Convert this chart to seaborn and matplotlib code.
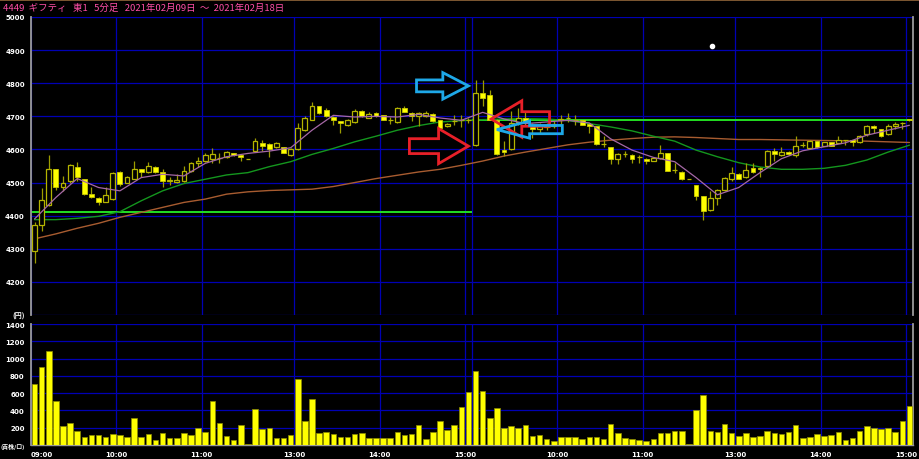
import matplotlib
matplotlib.use('Agg')
import matplotlib.pyplot as plt
from matplotlib.patches import FancyArrow, Rectangle
import seaborn as sns
import pandas as pd
import numpy as np

sns.set_style('dark', {'axes.facecolor': 'black', 'figure.facecolor': 'black'})
plt.rcParams['font.family'] = ['Noto Sans CJK JP', 'DejaVu Sans']

title = '4449  ギフティ   東1   5分足   2021年02月09日  〜  2021年02月18日'

# 5-minute bars, 2 sessions (09:00-11:30, 12:30-15:00) x 2 days
opens = [4293, 4373, 4433, 4541, 4486, 4506, 4546, 4510, 4466, 4453, 4442, 4451, 4532, 4500, 4512, 4541,
         4531, 4546, 4531, 4506, 4501, 4506, 4536, 4558, 4566, 4570, 4573, 4576, 4588, 4584, 4571,
         4596, 4620, 4616, 4608, 4606, 4582, 4600, 4658, 4690, 4730, 4720, 4697, 4685, 4673, 4683,
         4716, 4696, 4710, 4703, 4688, 4683, 4726, 4710, 4701, 4701, 4706, 4688, 4670, 4685, 4688, 4688,
         4613, 4770, 4765, 4690, 4598, 4600, 4682, 4695, 4675, 4662, 4668, 4670, 4690, 4694, 4688,
         4688, 4676, 4670, 4615, 4606, 4570, 4586, 4583, 4576, 4572, 4566, 4575, 4588, 4538, 4533, 4511,
         4492, 4458, 4418, 4453, 4478, 4510, 4526, 4516, 4543, 4545, 4550, 4596, 4583, 4592, 4582,
         4613, 4605, 4625, 4611, 4621, 4620, 4628, 4628, 4622, 4646, 4671, 4661, 4646, 4671, 4680, 4691]
highs = [4380, 4483, 4583, 4541, 4520, 4555, 4561, 4510, 4488, 4455, 4488, 4532, 4536, 4520, 4566, 4541,
         4563, 4551, 4540, 4518, 4526, 4551, 4563, 4576, 4588, 4603, 4588, 4595, 4590, 4586, 4571,
         4636, 4628, 4618, 4622, 4608, 4604, 4680, 4700, 4743, 4732, 4725, 4700, 4687, 4693, 4723,
         4718, 4712, 4712, 4705, 4698, 4728, 4730, 4712, 4713, 4716, 4710, 4690, 4680, 4703, 4703, 4695,
         4810, 4810, 4780, 4692, 4625, 4715, 4725, 4715, 4680, 4680, 4680, 4685, 4703, 4710, 4703,
         4690, 4678, 4672, 4641, 4608, 4588, 4596, 4585, 4583, 4574, 4575, 4613, 4590, 4560, 4535, 4511,
         4494, 4460, 4473, 4480, 4516, 4546, 4528, 4560, 4560, 4547, 4598, 4605, 4606, 4594, 4641,
         4623, 4630, 4627, 4623, 4623, 4641, 4630, 4630, 4644, 4673, 4673, 4663, 4678, 4683, 4682, 4693]
lows = [4258, 4353, 4430, 4478, 4473, 4500, 4506, 4462, 4453, 4432, 4440, 4448, 4490, 4498, 4510, 4518,
        4528, 4528, 4488, 4493, 4499, 4503, 4533, 4546, 4563, 4560, 4558, 4574, 4580, 4566, 4571,
        4594, 4596, 4576, 4604, 4588, 4580, 4598, 4655, 4688, 4708, 4698, 4673, 4651, 4670, 4680,
        4698, 4694, 4699, 4688, 4678, 4680, 4712, 4685, 4671, 4698, 4683, 4663, 4667, 4673, 4668, 4680,
        4610, 4730, 4688, 4584, 4580, 4598, 4675, 4675, 4635, 4650, 4660, 4665, 4678, 4683, 4673,
        4673, 4650, 4612, 4606, 4556, 4556, 4578, 4560, 4560, 4556, 4564, 4572, 4534, 4528, 4509, 4511,
        4446, 4388, 4415, 4433, 4476, 4506, 4510, 4514, 4528, 4516, 4548, 4566, 4580, 4583, 4578,
        4606, 4603, 4604, 4609, 4609, 4618, 4613, 4610, 4620, 4640, 4650, 4638, 4644, 4663, 4663, 4686]
closes = [4373, 4448, 4541, 4486, 4498, 4552, 4516, 4466, 4456, 4442, 4462, 4528, 4496, 4516, 4541, 4531,
          4551, 4531, 4506, 4507, 4508, 4536, 4560, 4566, 4584, 4586, 4575, 4592, 4582, 4576, 4571,
          4625, 4610, 4600, 4618, 4590, 4600, 4665, 4696, 4731, 4710, 4700, 4688, 4680, 4690, 4716,
          4700, 4708, 4701, 4690, 4689, 4725, 4714, 4702, 4711, 4711, 4685, 4666, 4677, 4687, 4689, 4690,
          4770, 4756, 4690, 4586, 4592, 4680, 4695, 4683, 4662, 4670, 4670, 4678, 4692, 4696, 4689,
          4675, 4670, 4615, 4616, 4570, 4586, 4587, 4570, 4577, 4566, 4573, 4588, 4536, 4539, 4511, 4511,
          4458, 4413, 4453, 4478, 4513, 4528, 4512, 4538, 4532, 4540, 4596, 4586, 4592, 4585, 4611,
          4614, 4625, 4606, 4621, 4611, 4630, 4629, 4623, 4642, 4671, 4666, 4641, 4671, 4678, 4681, 4688]
volume = [706, 906, 1092, 505, 216, 255, 158, 93, 112, 112, 93, 123, 112, 93, 309, 93,
          127, 54, 143, 85, 81, 143, 120, 200, 150, 505, 250, 104, 62, 235, 12,
          417, 181, 193, 81, 81, 116, 764, 278, 532, 135, 154, 123, 93, 89, 127,
          135, 81, 81, 81, 77, 147, 116, 127, 235, 69, 147, 282, 177, 235, 436, 609,
          860, 629, 309, 424, 197, 224, 197, 231, 108, 120, 69, 50, 89, 89, 96,
          66, 89, 96, 69, 239, 143, 77, 69, 62, 50, 69, 143, 135, 158, 166, 12,
          405, 579, 166, 154, 247, 139, 104, 135, 89, 100, 158, 135, 127, 154, 235,
          85, 89, 127, 108, 116, 154, 54, 77, 158, 224, 193, 181, 197, 154, 278, 455]

# moving averages read every 3 bars
ma_idx = list(range(0, 124, 3))
ma_short = [4390, 4455, 4512, 4485, 4475, 4515, 4525, 4520, 4558, 4578, 4588, 4595, 4605, 4658,
            4703, 4698, 4700, 4698, 4706, 4695, 4688, 4712, 4692, 4678, 4683, 4688, 4680, 4632,
            4598, 4576, 4563, 4515, 4463, 4485, 4530, 4572, 4596, 4608, 4620, 4643, 4658, 4673]
ma_mid = [4388, 4388, 4392, 4398, 4412, 4445, 4475, 4497, 4510, 4523, 4530, 4548, 4563, 4585,
          4603, 4623, 4640, 4658, 4672, 4683, 4687, 4690, 4692, 4693, 4692, 4687, 4678, 4668,
          4656, 4640, 4625, 4598, 4578, 4560, 4547, 4540, 4540, 4543, 4552, 4568, 4592, 4613]
ma_long = [4330, 4345, 4362, 4377, 4395, 4410, 4425, 4440, 4450, 4465, 4472, 4476, 4478, 4480,
           4488, 4500, 4512, 4522, 4532, 4540, 4552, 4565, 4580, 4592, 4603, 4614, 4622, 4628,
           4633, 4637, 4638, 4636, 4633, 4630, 4630, 4629, 4628, 4627, 4626, 4625, 4623, 4621]

ref_line_day1 = 4412
ref_line_day2 = 4688

tick_pos = [0, 12, 24, 37, 49, 61, 74, 86, 99, 111, 123]
tick_labels = ['09:00', '10:00', '11:00', '13:00', '14:00', '15:00',
               '10:00', '11:00', '13:00', '14:00', '15:00']
day_split = 62

df = pd.DataFrame({'open': opens, 'high': highs, 'low': lows, 'close': closes, 'volume': volume})
df['x'] = np.arange(len(df)) + 0.5
df['up'] = df['close'] >= df['open']
ma = pd.DataFrame({'x': np.array(ma_idx) + 0.5, 'short': ma_short, 'mid': ma_mid, 'long': ma_long})

fig = plt.figure(figsize=(9.19, 4.6), dpi=100, facecolor='black')
ax = fig.add_axes([31 / 919, 144 / 460, 882 / 919, 298 / 460])
axv = fig.add_axes([31 / 919, 14 / 460, 882 / 919, 121 / 460])

grid_col = '#0000b4'
for a in (ax, axv):
    a.set_facecolor('black')
    a.set_xlim(0, 124)
    a.set_xticks(tick_pos + [day_split])
    a.grid(True, color=grid_col, linewidth=0.9)
    a.set_axisbelow(True)
    a.spines['top'].set_visible(False)
    for s in ('left', 'right'):
        a.spines[s].set_color('#9a9a9a')
        a.spines[s].set_linewidth(1.3)
    a.tick_params(axis='y', colors='#9a9a9a', length=3, width=0.8, pad=1.5,
                  labelsize=5, labelcolor='white')

# price panel
ax.spines['bottom'].set_visible(False)
ax.set_ylim(4100, 5000)
ax.set_yticks(range(4100, 5001, 100))
ax.set_yticklabels(['(円)'] + [str(v) for v in range(4200, 5001, 100)],
                   fontweight='bold', family='DejaVu Sans')
ax.get_yticklabels()[0].set_family(['Noto Sans CJK JP'])
ax.tick_params(axis='x', length=0, labelbottom=False)

ax.hlines(ref_line_day1, 0, day_split, color='#22e022', linewidth=1.4, zorder=2)
ax.hlines(ref_line_day2, day_split, 124, color='#22e022', linewidth=1.4, zorder=2)

sns.lineplot(data=ma, x='x', y='long', color='#a85c30', linewidth=1.0, ax=ax, zorder=3)
sns.lineplot(data=ma, x='x', y='mid', color='#14961e', linewidth=1.0, ax=ax, zorder=3)
sns.lineplot(data=ma, x='x', y='short', color='#a668a6', linewidth=0.9, ax=ax, zorder=5)
ax.set_xlabel('')
ax.set_ylabel('')

ax.vlines(df['x'], df['low'], df['high'], color='#9c9c00', linewidth=0.9, zorder=4)
up = df[df['up']]
dn = df[~df['up']]
ax.bar(up['x'], up['close'] - up['open'], bottom=up['open'], width=0.68,
       facecolor='black', edgecolor='#b4b400', linewidth=0.9, zorder=4)
ax.bar(dn['x'], dn['close'] - dn['open'], bottom=dn['open'], width=0.68,
       facecolor='#ffff00', edgecolor='#c8c800', linewidth=0.6, zorder=4)

ax.plot([95.7], [4912], 'o', color='white', markersize=3, zorder=6)

# annotation arrows (outlined)
arrows = [
    (54.2, 4792, 7.3, 36, 80, 3.6, '#1ea8e8'),
    (53.2, 4610, 8.3, 45, 106, 4.2, '#e82028'),
    (72.9, 4692, -8.2, 44, 110, 4.3, '#e82028'),
    (74.7, 4660, -9.2, 25, 52, 4.6, '#1ea8e8'),
]
for x0, y0, dx, w, hw, hl, col in arrows:
    ax.add_patch(FancyArrow(x0, y0, dx, 0, width=w, head_width=hw, head_length=hl,
                            length_includes_head=True, fill=False, edgecolor=col,
                            linewidth=2.0, zorder=7))

# volume panel
sns.barplot(data=df, x='x', y='volume', native_scale=True, width=0.78, color='#ffff00',
            saturation=1, edgecolor='#8c8c00', linewidth=0.5, errorbar=None, ax=axv, zorder=3)
axv.set_xlim(0, 124)
axv.set_ylim(0, 1400)
axv.set_yticks(range(0, 1401, 200))
axv.set_yticklabels(['(百株/口)'] + [str(v) for v in range(200, 1401, 200)],
                    fontweight='bold', family='DejaVu Sans')
axv.get_yticklabels()[0].set_family(['Noto Sans CJK JP'])
axv.get_yticklabels()[0].set_fontsize(4.2)
axv.set_xticks(tick_pos + [day_split])
axv.set_xticklabels(tick_labels + [''], fontweight='bold', family='DejaVu Sans')
axv.spines['bottom'].set_color('#9a9a9a')
axv.spines['bottom'].set_linewidth(1.0)
axv.tick_params(axis='x', colors='#9a9a9a', length=2, width=0.8, pad=2,
                labelsize=5, labelcolor='white')
axv.set_xlabel('')
axv.set_ylabel('')
axv.get_xticklabels()[0].set_ha('left')

fig.patches.append(Rectangle((0, 1 - 2 / 460), 1, 2 / 460, transform=fig.transFigure,
                             facecolor='#7a5530', edgecolor='none'))
fig.text(3 / 919, 1 - 8 / 460, title, color='#ff4fa8', fontsize=6.8, va='center', ha='left')

fig.savefig('out.png', dpi=100, facecolor='black')
